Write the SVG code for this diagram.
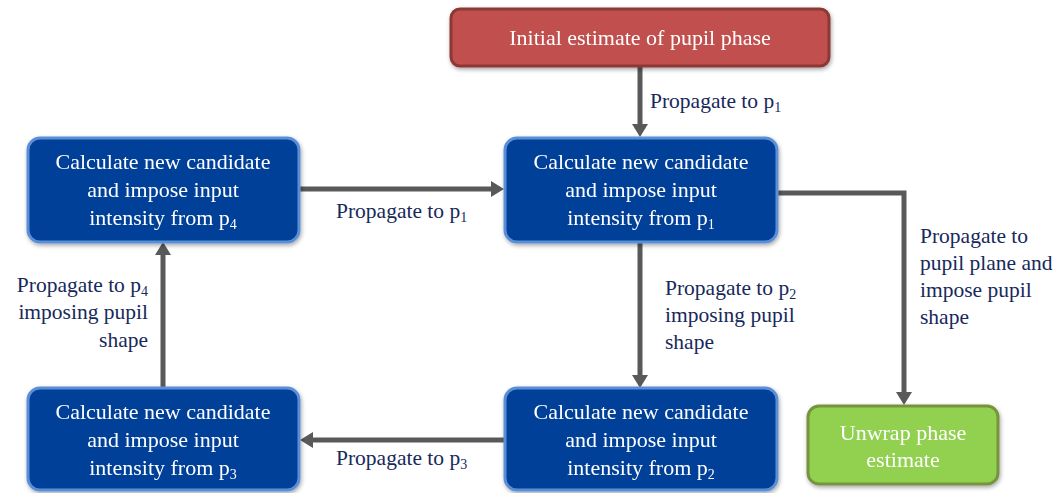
<svg xmlns="http://www.w3.org/2000/svg" width="1061" height="493" viewBox="0 0 1061 493">
<defs>
<filter id="sh" x="-10%" y="-10%" width="120%" height="130%">
<feDropShadow dx="1" dy="2" stdDeviation="2" flood-color="#000" flood-opacity="0.35"/>
</filter>
<marker id="ah" markerWidth="3" markerHeight="3.2" refX="0.6" refY="1.6" orient="auto" markerUnits="strokeWidth" overflow="visible">
<path d="M0,0 L2.6,1.6 L0,3.2 Z" fill="#595959"/>
</marker>
<style>
.blue{fill:#034198;stroke:#5a8fd8;stroke-width:3}
.red{fill:#c0504d;stroke:#8c3836;stroke-width:3}
.green{fill:#92d050;stroke:#77933c;stroke-width:3}
.nt{font-family:"Liberation Serif",serif;font-size:22px;fill:#fff;text-anchor:middle}
.lb{font-family:"Liberation Serif",serif;font-size:21.5px;fill:#17295a}
.sub{font-size:14px}
.c{fill:none;stroke:#595959;stroke-width:5}
</style>
</defs>
<rect width="1061" height="493" fill="#fff"/>
<g id="connectors">
<line class="c" x1="640" y1="67" x2="640" y2="127" marker-end="url(#ah)"/>
<line class="c" x1="300" y1="189" x2="494" y2="189" marker-end="url(#ah)"/>
<polyline class="c" points="778,193 904,193 904,395" marker-end="url(#ah)"/>
<line class="c" x1="640" y1="243" x2="640" y2="378" marker-end="url(#ah)"/>
<line class="c" x1="505" y1="440" x2="310" y2="440" marker-end="url(#ah)"/>
<line class="c" x1="163" y1="388" x2="163" y2="252" marker-end="url(#ah)"/>
</g>
<g id="labels">
<text class="lb" x="650" y="108">Propagate to p<tspan class="sub" dy="4">1</tspan></text>
<text class="lb" x="336" y="218">Propagate to p<tspan class="sub" dy="4">1</tspan></text>
<text class="lb" x="665" y="295">Propagate to p<tspan class="sub" dy="4">2</tspan></text>
<text class="lb" x="665" y="322">imposing pupil</text>
<text class="lb" x="665" y="349">shape</text>
<text class="lb" x="920" y="243">Propagate to</text>
<text class="lb" x="920" y="270">pupil plane and</text>
<text class="lb" x="920" y="297">impose pupil</text>
<text class="lb" x="920" y="324">shape</text>
<text class="lb" x="148" y="292" text-anchor="end">Propagate to p<tspan class="sub" dy="4">4</tspan></text>
<text class="lb" x="148" y="319" text-anchor="end">imposing pupil</text>
<text class="lb" x="148" y="347" text-anchor="end">shape</text>
<text class="lb" x="336" y="465">Propagate to p<tspan class="sub" dy="4">3</tspan></text>
</g>
<g id="n-initial" filter="url(#sh)">
<rect class="red" x="451" y="9" width="378" height="57" rx="9"/>
<text class="nt" x="640" y="45" font-size="23">Initial estimate of pupil phase</text>
</g>
<g id="n-p4" filter="url(#sh)">
<rect class="blue" x="28" y="138" width="271" height="104" rx="12"/>
<text class="nt" x="163" y="169">Calculate new candidate</text>
<text class="nt" x="163" y="197">and impose input</text>
<text class="nt" x="163" y="225">intensity from p<tspan class="sub" dy="4">4</tspan></text>
</g>
<g id="n-p1" filter="url(#sh)">
<rect class="blue" x="505" y="138" width="272" height="104" rx="12"/>
<text class="nt" x="641" y="169">Calculate new candidate</text>
<text class="nt" x="641" y="197">and impose input</text>
<text class="nt" x="641" y="225">intensity from p<tspan class="sub" dy="4">1</tspan></text>
</g>
<g id="n-p3" filter="url(#sh)">
<rect class="blue" x="28" y="388" width="271" height="102" rx="12"/>
<text class="nt" x="163" y="419">Calculate new candidate</text>
<text class="nt" x="163" y="447">and impose input</text>
<text class="nt" x="163" y="475">intensity from p<tspan class="sub" dy="4">3</tspan></text>
</g>
<g id="n-p2" filter="url(#sh)">
<rect class="blue" x="505" y="388" width="272" height="102" rx="12"/>
<text class="nt" x="641" y="419">Calculate new candidate</text>
<text class="nt" x="641" y="447">and impose input</text>
<text class="nt" x="641" y="475">intensity from p<tspan class="sub" dy="4">2</tspan></text>
</g>
<g id="n-unwrap" filter="url(#sh)">
<rect class="green" x="808" y="406" width="190" height="78" rx="11"/>
<text class="nt" x="903" y="440">Unwrap phase</text>
<text class="nt" x="903" y="467">estimate</text>
</g>
</svg>
